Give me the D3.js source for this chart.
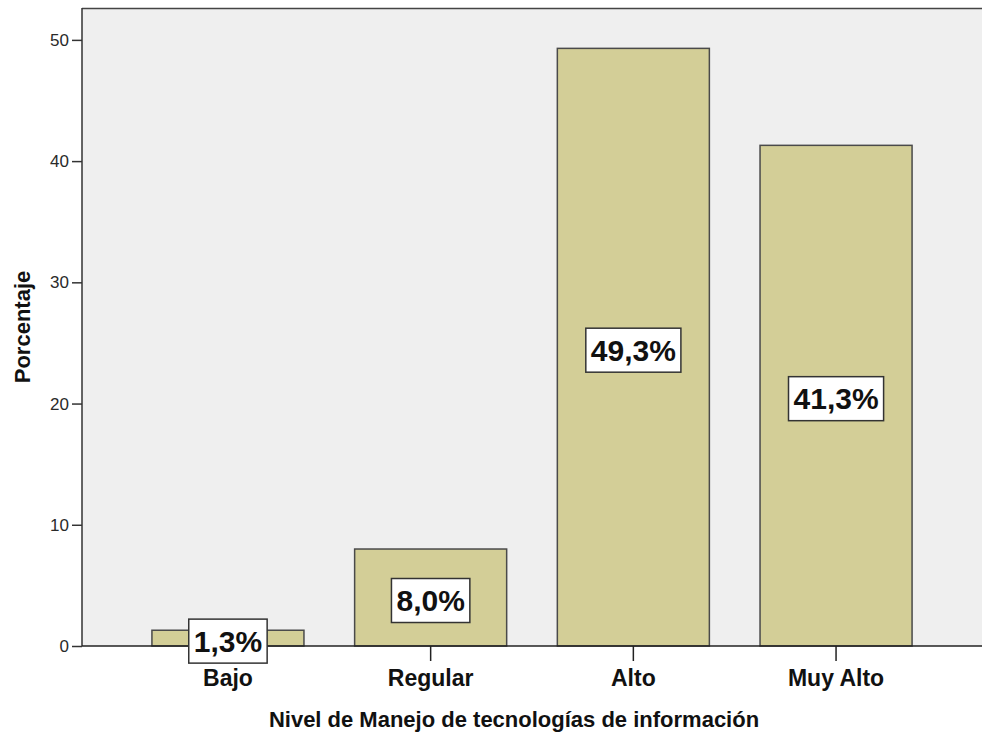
<html>
<head>
<script src="https://cdn.jsdelivr.net/npm/d3@7"></script>
<style>
  body { margin: 0; background: #fff; }
  text { font-family: "Liberation Sans", Arial, sans-serif; }
</style>
</head>
<body>
<svg width="982" height="738"></svg>
<script>
// datos del gráfico
var categorias = ['Bajo', 'Regular', 'Alto', 'Muy Alto']
var porcentajes = [1.3, 8.0, 49.3, 41.3]
var etiquetas = ['1,3%', '8,0%', '49,3%', '41,3%']
var ticksY = [0, 10, 20, 30, 40, 50]

var svg = d3.select('svg')
// ojo: "top" es una propiedad de window, por eso otro nombre
var m = {left: 82, top: 8, right: 982, bottom: 646}

var x = d3.scaleBand()
    .domain(categorias)
    .range([m.left, m.right])
    .paddingInner(0.25)
    .paddingOuter(0.345)

var y = d3.scaleLinear()
    .domain([0, 52.63])
    .range([m.bottom, m.top])

// fondo del área
svg.append('rect')
    .attr('x', m.left).attr('y', m.top)
    .attr('width', m.right - m.left).attr('height', m.bottom - m.top)
    .attr('fill', '#efefef')

// borde superior
svg.append('line')
    .attr('x1', m.left).attr('x2', m.right)
    .attr('y1', m.top + 0.5).attr('y2', m.top + 0.5)
    .attr('stroke', '#444').attr('stroke-width', 1.5)

// barras
svg.selectAll('rect.barra')
    .data(porcentajes)
    .enter()
    .append('rect')
    .attr('class', 'barra')
    .attr('x', function(d, i){ return x(categorias[i]) })
    .attr('y', function(d){ return y(d) })
    .attr('width', x.bandwidth())
    .attr('height', function(d){ return m.bottom - y(d) })
    .attr('fill', '#d3ce97')
    .attr('stroke', '#4a4a4a')
    .attr('stroke-width', 1.5)

// eje y
var ejeY = svg.append('g')
    .attr('transform', 'translate(' + m.left + ',0)')
    .call(d3.axisLeft(y).tickValues(ticksY).tickSize(10).tickPadding(3).tickFormat(d3.format('d')))
ejeY.select('.domain').attr('stroke', '#333').attr('stroke-width', 1.5)
    .attr('d', 'M0,' + m.top + 'V' + m.bottom)
ejeY.selectAll('.tick line').attr('stroke', '#333').attr('stroke-width', 1.5)
ejeY.selectAll('.tick text')
    .attr('fill', '#2a2a2a')
    .style('font-size', '17px')
    .style('font-family', '"Liberation Sans", Arial, sans-serif')

// eje x
var ejeX = svg.append('g')
    .attr('transform', 'translate(0,' + m.bottom + ')')
    .call(d3.axisBottom(x).tickSize(15).tickPadding(9))
ejeX.select('.domain').attr('stroke', '#222').attr('stroke-width', 1.5)
    .attr('d', 'M' + m.left + ',0H' + m.right)
ejeX.selectAll('.tick line').attr('stroke', '#222').attr('stroke-width', 1.5)
ejeX.selectAll('.tick text')
    .attr('fill', '#111')
    .style('font-size', '23px')
    .style('font-weight', 'bold')

// etiquetas de porcentaje
var lab = svg.selectAll('g.lab')
    .data(porcentajes)
    .enter()
    .append('g')
    .attr('class', 'lab')
    .attr('transform', function(d, i){
        return 'translate(' + (x(categorias[i]) + x.bandwidth() / 2) + ',' + ((y(d) + m.bottom) / 2 + 3) + ')'
    })

lab.append('text')
    .attr('text-anchor', 'middle')
    .attr('dy', '0.36em')
    .style('font-size', '30px')
    .style('font-weight', 'bold')
    .attr('fill', '#111')
    .text(function(d, i){ return etiquetas[i] })

lab.each(function(){
    var g = d3.select(this)
    var b = g.select('text').node().getBBox()
    g.insert('rect', 'text')
        .attr('x', b.x - 5).attr('y', -22)
        .attr('width', b.width + 10).attr('height', 44)
        .attr('fill', '#fff')
        .attr('stroke', '#333')
        .attr('stroke-width', 1.5)
})

// títulos de ejes
svg.append('text')
    .attr('x', (m.left + m.right) / 2 - 18).attr('y', 727)
    .attr('text-anchor', 'middle')
    .style('font-size', '22px')
    .style('font-weight', 'bold')
    .attr('fill', '#111')
    .text('Nivel de Manejo de tecnologías de información')

svg.append('text')
    .attr('transform', 'translate(30,327) rotate(-90)')
    .attr('text-anchor', 'middle')
    .style('font-size', '22px')
    .style('font-weight', 'bold')
    .attr('fill', '#111')
    .text('Porcentaje')
</script>
</body>
</html>
